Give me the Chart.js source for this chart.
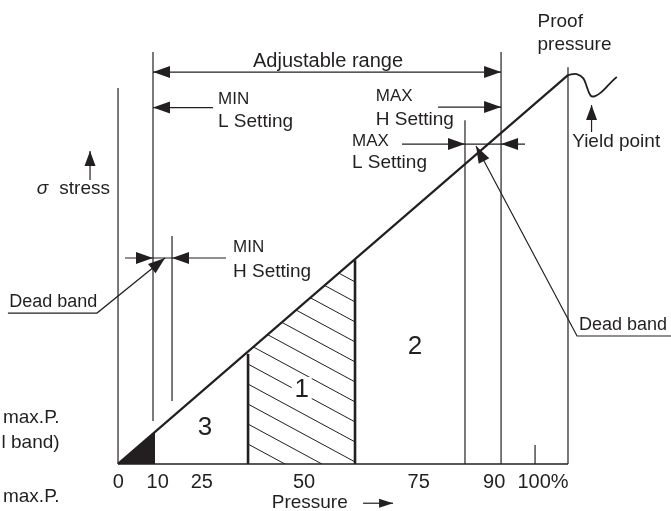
<!DOCTYPE html>
<html>
<head>
<meta charset="utf-8">
<script src="https://cdn.jsdelivr.net/npm/chart.js@4.4.1/dist/chart.umd.min.js"></script>
<style>
  html, body { margin: 0; padding: 0; background: #fff; }
  #wrap { width: 671px; height: 511px; position: relative; }
</style>
</head>
<body>
<div id="wrap"><canvas id="myChart"></canvas></div>
<script>
// x = pressure (% of max), y = stress (% of proof pressure stress)
const INK = "#231f20";
const FONT = "'Liberation Sans', Arial, sans-serif";

// tick labels on the pressure axis and where they sit
const tickLabels = ["0", "10", "25", "50", "75", "90", "100%"];
const tickPositions = [0.1, 9.5, 20.1, 44.6, 72.1, 90.2, 101.9];

// stress line up to proof pressure, then the yield wiggle
const stressX = [0, 107.9];
const stressY = [0, 100];
const yieldX = [107.84, 110.0, 111.58, 112.54, 113.36, 114.39, 116.0, 117.82, 119.59];
const yieldY = [100, 100.26, 99.15, 96.58, 94.68, 94.6, 95.7, 97.69, 99.56];

// vertical guide lines: stress axis, MIN L, MIN H, MAX L, MAX H, proof, 100% tick
const guideX = [0, 8.39, 12.95, 83.2, 91.85, 107.9, 100];
const guideLow = [0, 11.05, 16.2, 0, 0, 0, 0];
const guideHigh = [96.7, 105.9, 58.6, 88.4, 105.9, 102, 4.9];

// zone 1 (hatched) and the black corner
const zoneEdgeX = [31.18, 56.83];
const zoneEdgeTop = [28.3, 52.4];
const hatchX = [31.18, 56.83];
const hatchY = [28.9, 52.67];
const blackX = [0, 8.87];
const blackY = [0, 8.2];

const zoneLabels = ["3", "1", "2"];
const zoneLabelX = [20.86, 44.05, 71.2];
const zoneLabelY = [9.25, 19.0, 30.15];

const pts = (xs, ys) => xs.map((x, i) => ({ x: x, y: ys[i] }));

function makeHatch() {
    const c = document.createElement("canvas");
    c.width = 37;
    c.height = 20;
    const g = c.getContext("2d");
    g.strokeStyle = INK;
    g.lineWidth = 1;
    [-20, 0, 20].forEach(function (dy) {
        g.beginPath();
        g.moveTo(-2, dy - 1.08);
        g.lineTo(39, dy + 21.08);
        g.stroke();
    });
    const p = g.createPattern(c, "repeat");
    if (p.setTransform) p.setTransform(new DOMMatrix().translate(0, 10));
    return p;
}

const datasets = [
    { data: pts(blackX, blackY), fill: "origin", backgroundColor: INK, borderColor: "transparent", borderWidth: 0 },
    { data: pts(hatchX, hatchY), fill: "origin", backgroundColor: makeHatch(), borderColor: "transparent", borderWidth: 0 },
    { data: [{ x: 0, y: 0 }, { x: stressX[1], y: 0 }], borderWidth: 1.5 },
    { data: pts(stressX, stressY), borderWidth: 2.2 },
    { data: pts(yieldX, yieldY), borderWidth: 1.8, tension: 0.4 },
];
guideX.forEach(function (x, i) {
    datasets.push({ data: [{ x: x, y: guideLow[i] }, { x: x, y: guideHigh[i] }], borderWidth: 1.2 });
});
zoneEdgeX.forEach(function (x, i) {
    datasets.push({ data: [{ x: x, y: 0 }, { x: x, y: zoneEdgeTop[i] }], borderWidth: 2.6 });
});
datasets.forEach(function (d) {
    d.showLine = true;
    d.pointRadius = 0;
    if (!d.borderColor) d.borderColor = INK;
});

// dimension arrows / leaders (data units)
const arrows = [
    { line: [[8.39, 100.77], [91.85, 100.77]], heads: [[8.39, 100.77, 20, 100.77], [91.85, 100.77, 80, 100.77]] },
    { line: [[22.78, 91.65], [8.39, 91.65]], heads: [[8.39, 91.65, 22.78, 91.65]] },
    { line: [[76.74, 91.77], [91.85, 91.77]], heads: [[91.85, 91.77, 76.74, 91.77]] },
    { line: [[68.1, 82.26], [97.6, 82.26]], heads: [[83.2, 82.26, 68.1, 82.26], [91.85, 82.26, 97.6, 82.26]] },
    { line: [[1.68, 52.96], [25.9, 52.96]], heads: [[8.39, 52.96, 1.68, 52.96], [12.95, 52.96, 25.9, 52.96]] },
    { line: [[11.27, 52.96], [-5.04, 38.8], [-26.4, 38.8]], heads: [[11.27, 52.96, -5.04, 38.8]] },
    { line: [[85.85, 81.75], [110.07, 32.9], [132.6, 32.9]], heads: [[85.85, 81.75, 110.07, 32.9]] },
    { line: [[113.55, 85.35], [113.55, 92.29]], heads: [[113.55, 92.29, 113.55, 85.35]], len: 15, half: 5.5 },
    { line: [[-6.71, 73.0], [-6.71, 80.46]], heads: [[-6.71, 80.46, -6.71, 73.0]], len: 15, half: 5.5 },
    { line: [[58.75, -10.1], [65.95, -10.1]], heads: [[65.95, -10.1, 58.75, -10.1]], len: 14, half: 4.5 },
];

const notesText = [
    ["Adjustable range", 50.36, 102.06, "center", 20],
    ["Proof", 100.6, 112.3, "left", 19],
    ["pressure", 100.6, 106.5, "left", 19],
    ["MIN", 23.98, 92.5, "left", 17],
    ["L Setting", 23.98, 86.6, "left", 19],
    ["MAX", 61.8, 93.3, "left", 17],
    ["H Setting", 61.8, 87.1, "left", 19],
    ["MAX", 56.1, 81.7, "left", 17],
    ["L Setting", 56.1, 76.1, "left", 19],
    ["Yield point", 108.9, 81.6, "left", 19],
    ["σ", -19.5, 69.4, "left", 19, "italic "],
    ["stress", -14.08, 69.4, "left", 19],
    ["MIN", 27.58, 54.5, "left", 17],
    ["H Setting", 27.58, 48.1, "left", 19],
    ["Dead band", -26.1, 40.4, "left", 18],
    ["Dead band", 110.55, 34.4, "left", 18],
    ["max.P.", -14.0, 10.46, "right", 19],
    ["l band)", -14.0, 4.03, "right", 19],
    ["max.P.", -14.0, -9.7, "right", 19],
    ["l band)", -14.0, -15.4, "right", 19],
    ["Pressure", 36.86, -11.3, "left", 19],
];

function head(c, tip, from, len, half) {
    const dx = from[0] - tip[0], dy = from[1] - tip[1];
    const d = Math.hypot(dx, dy) || 1;
    const ux = dx / d, uy = dy / d;
    const bx = tip[0] + ux * len, by = tip[1] + uy * len;
    c.beginPath();
    c.moveTo(tip[0], tip[1]);
    c.lineTo(bx - uy * half, by + ux * half);
    c.lineTo(bx + uy * half, by - ux * half);
    c.closePath();
    c.fill();
}

const notes = {
    id: "notes",
    afterDatasetsDraw(chart) {
        const c = chart.ctx, sx = chart.scales.x, sy = chart.scales.y;
        const P = (u, v) => [sx.getPixelForValue(u), sy.getPixelForValue(v)];
        c.save();
        c.strokeStyle = INK;
        c.fillStyle = INK;
        c.lineWidth = 1.2;
        arrows.forEach(function (a) {
            c.beginPath();
            a.line.forEach(function (p, i) {
                const q = P(p[0], p[1]);
                if (i) c.lineTo(q[0], q[1]); else c.moveTo(q[0], q[1]);
            });
            c.stroke();
            a.heads.forEach(function (h) {
                head(c, P(h[0], h[1]), P(h[2], h[3]), a.len || 17, a.half || 6);
            });
        });

        c.textBaseline = "alphabetic";
        notesText.forEach(function (t) {
            const q = P(t[1], t[2]);
            c.font = (t[5] || "") + t[4] + "px " + FONT;
            c.textAlign = t[3];
            c.fillText(t[0], q[0], q[1]);
        });

        // tick labels
        c.font = "20px " + FONT;
        c.textAlign = "center";
        tickLabels.forEach(function (lab, i) {
            const q = P(tickPositions[i], -6.17);
            c.fillText(lab, q[0], q[1]);
        });

        // zone numbers
        c.font = "26px " + FONT;
        c.textBaseline = "middle";
        zoneLabels.forEach(function (lab, i) {
            const q = P(zoneLabelX[i], zoneLabelY[i]);
            if (lab === "1") {
                c.fillStyle = "#fff";
                c.fillRect(q[0] - 10, q[1] - 13, 20, 26);
                c.fillStyle = INK;
            }
            c.fillText(lab, q[0], q[1]);
        });
        c.restore();
    },
};

const ctx = document.getElementById("myChart").getContext("2d");
new Chart(ctx, {
    type: "scatter",
    data: { datasets: datasets },
    options: {
        responsive: true,
        maintainAspectRatio: false,
        animation: false,
        layout: { padding: 0 },
        plugins: { legend: { display: false }, tooltip: { enabled: false } },
        scales: {
            x: { type: "linear", display: false, min: -28.3, max: 132.6 },
            y: { type: "linear", display: false, min: -12.1, max: 119.3 },
        },
    },
    plugins: [notes],
});
</script>
</body>
</html>
